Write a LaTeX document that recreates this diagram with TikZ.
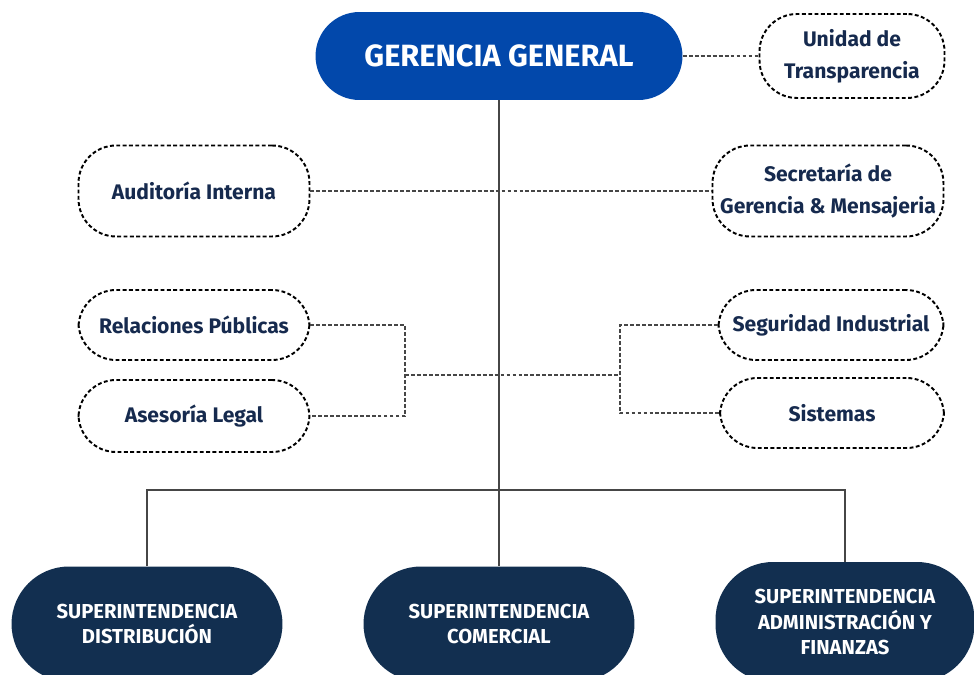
\documentclass[tikz,border=0pt]{standalone}
\usepackage{fontspec}
\setmainfont{Fira Sans}
\usetikzlibrary{positioning}

\definecolor{gerblue}{RGB}{2,72,171}
\definecolor{supnavy}{RGB}{18,47,80}
\definecolor{txtnavy}{RGB}{22,42,78}
\definecolor{linegray}{RGB}{70,70,70}

\tikzset{
  mainbox/.style={fill=gerblue, text=white, font=\bfseries\fontsize{17.5}{20}\selectfont,
    minimum width=7.34cm, minimum height=1.76cm, rounded corners=0.88cm},
  staffbox/.style={draw=black, line width=1.1pt, dash pattern=on 2.2pt off 1.4pt,
    text=txtnavy, font=\bfseries\fontsize{12}{18}\selectfont, align=center,
    inner xsep=0pt, rounded corners=0.75cm, minimum width=4.62cm},
  superbox/.style={fill=supnavy, text=white, font=\bfseries\fontsize{11.5}{14.6}\selectfont,
    align=center, minimum width=5.42cm, minimum height=2.3cm, rounded corners=1.15cm},
  solidline/.style={draw=linegray, line width=1pt},
  dashline/.style={draw=linegray, line width=1pt, dash pattern=on 2.2pt off 1.2pt}
}

\begin{document}
\begin{tikzpicture}[x=0.02cm, y=-0.02cm]
  \clip (0,0) rectangle (974,675); %page frame
  % head
  \node[mainbox] (gg) at (499,56) {GERENCIA GENERAL};
  \node[staffbox, minimum width=3.7cm, minimum height=1.68cm] (ut) at (852,56) {Unidad de\\Transparencia};
  % staff
  \node[staffbox, minimum height=1.82cm] (ai) at (194,191) {Auditoría Interna};
  \node[staffbox, minimum height=1.82cm] (sg) at (828,191) {Secretaría de\\Gerencia \& Mensajeria};
  \node[staffbox, minimum height=1.4cm] (rp) at (194,325) {Relaciones Públicas};
  \node[staffbox, minimum height=1.44cm] (al) at (194,416) {Asesoría Legal};
  \node[staffbox, minimum width=4.5cm, minimum height=1.4cm] (si) at (831,325) {Seguridad Industrial};
  \node[staffbox, minimum width=4.48cm, minimum height=1.4cm] (ss) at (832,413) {Sistemas};
  % superintendencias
  \node[superbox] (sd) at (147,624) {SUPERINTENDENCIA\\DISTRIBUCIÓN};
  \node[superbox] (sc) at (499,624) {SUPERINTENDENCIA\\COMERCIAL};
  \node[superbox, minimum width=5.18cm, minimum height=2.4cm] (sa) at (845,622) {SUPERINTENDENCIA\\ADMINISTRACIÓN Y\\FINANZAS};
  % joints
  \coordinate (hub) at (499,490);
  \coordinate (lj) at (405,375);
  \coordinate (rj) at (620,375);
  % dashed links
  \draw[dashline] (gg.east) -- (ut.west);
  \draw[dashline] (ai.east) -- (sg.west);
  \draw[dashline] (rp.east) -| (lj) |- (al.east);
  \draw[dashline] (si.west) -| (rj) |- (ss.west);
  \draw[dashline] (lj) -- (rj);
  % solid links
  \draw[solidline] (gg.south) -- (hub);
  \draw[solidline] (sd.north) |- (hub) -| (sa.north);
  \draw[solidline] (hub) -- (sc.north);
\end{tikzpicture}
\end{document}
